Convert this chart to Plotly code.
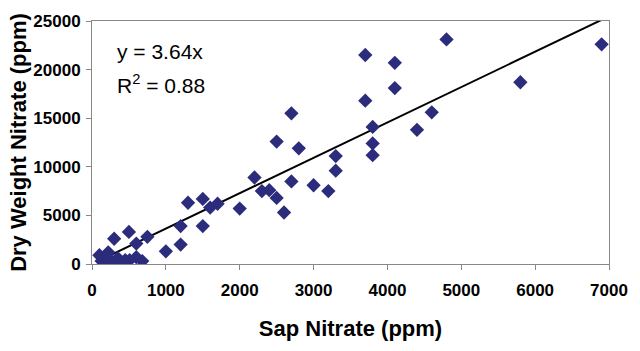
import plotly.graph_objects as go

sap_nitrate = [4800, 6900, 3700, 4100, 4100, 5800, 3700, 4600, 3800, 4400, 3800, 3800, 3300,
               3300, 2200, 2700, 3000, 2300, 2400, 3200, 2500, 2600, 2000, 1500, 1600, 1700, 1500,
               2700, 2500, 2800, 1300, 1200, 1200, 1000, 750, 500, 300, 600,
               100, 220, 250, 130, 350, 450, 510, 600, 680, 180, 400, 300]
dry_weight_nitrate = [23100, 22600, 21500, 20700, 18100, 18700, 16800, 15600, 14100, 13800, 12400, 11200, 11100,
                      9600, 8900, 8500, 8100, 7500, 7600, 7500, 6800, 5300, 5700, 6700, 5800, 6200, 3900,
                      15500, 12600, 11900, 6300, 3900, 2000, 1300, 2800, 3300, 2600, 2100,
                      900, 1200, 400, 300, 600, 400, 400, 700, 300, 100, 200, 100]
slope = 3.64
r_squared = 0.88
x_ticks = [0, 1000, 2000, 3000, 4000, 5000, 6000, 7000]
y_ticks = [0, 5000, 10000, 15000, 20000, 25000]

fit_x = [min(sap_nitrate), max(sap_nitrate)]
fit_y = [slope * v for v in fit_x]

fig = go.Figure()
fig.add_trace(go.Scatter(x=fit_x, y=fit_y, mode="lines",
                         line=dict(color="black", width=2), hoverinfo="skip"))
fig.add_trace(go.Scatter(x=sap_nitrate, y=dry_weight_nitrate, mode="markers",
                         marker=dict(symbol="diamond", size=11, color="#2B2C7C")))

fig.add_annotation(x=0.045, y=0.875, xref="paper", yref="paper", xanchor="left", yanchor="middle",
                   text=f"y = {slope}x", showarrow=False,
                   font=dict(family="Liberation Sans, Arial", size=21, color="black"))
fig.add_annotation(x=0.045, y=0.74, xref="paper", yref="paper", xanchor="left", yanchor="middle",
                   text=f"R<sup>2</sup> = {r_squared}", showarrow=False,
                   font=dict(family="Liberation Sans, Arial", size=21, color="black"))

axis_common = dict(showgrid=False, zeroline=False, showline=True, linecolor="#888888",
                   linewidth=1, mirror=True, ticks="outside", ticklen=5, tickcolor="#888888",
                   tickfont=dict(family="Liberation Sans, Arial", size=17, color="black",
                                 weight="bold"))
fig.update_xaxes(range=[0, 7000], tickvals=x_ticks, ticktext=[str(v) for v in x_ticks],
                 ticklabelstandoff=6, **axis_common,
                 title=dict(text="<b>Sap Nitrate (ppm)</b>", standoff=21,
                            font=dict(family="Liberation Sans, Arial", size=22, color="black")))
fig.update_yaxes(range=[0, 25000], tickvals=y_ticks, ticktext=[str(v) for v in y_ticks],
                 ticklabelstandoff=2, **axis_common,
                 title=dict(text="<b>Dry Weight Nitrate (ppm)</b>", standoff=0,
                            font=dict(family="Liberation Sans, Arial", size=22, color="black")))

fig.update_layout(width=640, height=351, showlegend=False,
                  margin=dict(l=92, r=28, t=16, b=87),
                  plot_bgcolor="white", paper_bgcolor="white")

fig.write_html("out.html")
